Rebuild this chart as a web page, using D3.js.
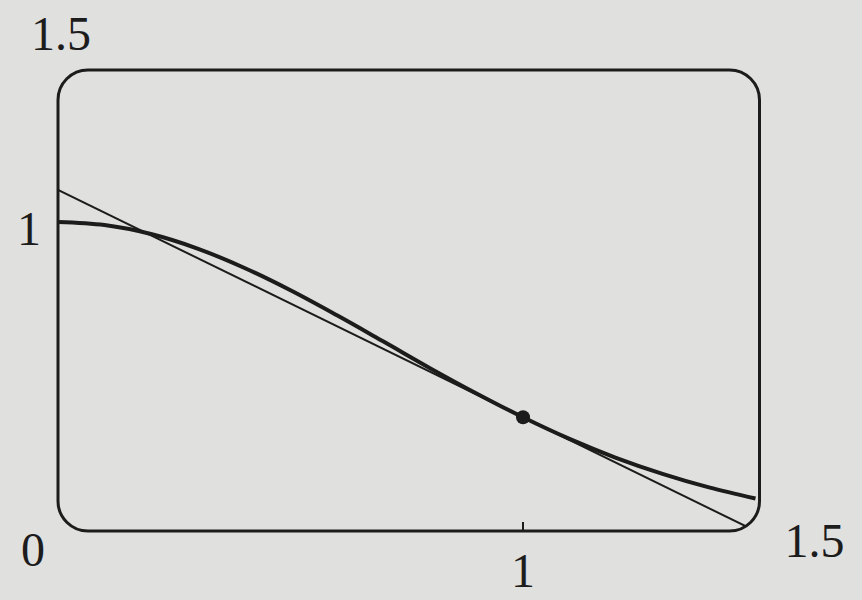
<!DOCTYPE html>
<html><head><meta charset="utf-8">
<script src="https://cdn.jsdelivr.net/npm/d3@7"></script>
<style>html,body{margin:0;padding:0;background:#e0e0de;}svg{display:block;}</style>
</head><body>
<svg id="c" width="862" height="600"></svg>
<script>
// Curve sample points
const curveX = [0, 0.1, 0.2, 0.3, 0.4, 0.5, 0.6, 0.7, 0.8, 0.9, 1.0, 1.1, 1.2, 1.3, 1.4, 1.5];
const curveY = [1.0, 0.99, 0.961, 0.914, 0.852, 0.779, 0.698, 0.613, 0.527, 0.445, 0.368, 0.298, 0.237, 0.185, 0.141, 0.105];
// Tangent line end points
const lineX = [0, 1.5];
const lineY = [1.104, 0.0];
// Marked point
const pointX = [1.0];
const pointY = [0.368];
// Tick labels
const xTicks = [{v: 1, t: "1"}];
const xEndLabel = "1.5";
const yTopLabel = "1.5";
const yTickLabel = "1";
const originLabel = "0";

const svg = d3.select("#c");
const x = d3.scaleLinear().domain([0, 1.5]).range([58, 755.5]);
const y = d3.scaleLinear().domain([0, 1.5]).range([531, 67.5]);

const ink = "#1c1c1c";
const bx0 = x(0), bx1 = x(1.5) + 4, by0 = y(1.5) + 2.5, by1 = y(0);
const rad = 30;

svg.append("defs").append("clipPath").attr("id", "clip")
  .append("rect").attr("x", bx0).attr("y", by0).attr("width", bx1 - bx0).attr("height", by1 - by0)
  .attr("rx", rad).attr("ry", rad);

const g = svg.append("g").attr("clip-path", "url(#clip)");

const line = d3.line().x(d => x(d[0])).y(d => y(d[1]));

g.append("path")
  .datum(lineX.map((v, i) => [v, lineY[i]]))
  .attr("d", line).attr("fill", "none").attr("stroke", ink).attr("stroke-width", 2);

g.append("path")
  .datum(curveX.map((v, i) => [v, curveY[i]]))
  .attr("d", line.curve(d3.curveCatmullRom)).attr("fill", "none").attr("stroke", ink).attr("stroke-width", 4);

g.selectAll("circle.pt").data(pointX.map((v, i) => [v, pointY[i]])).enter()
  .append("circle").attr("cx", d => x(d[0])).attr("cy", d => y(d[1])).attr("r", 7).attr("fill", ink);

// tick on bottom edge
svg.selectAll("line.tick").data(xTicks).enter().append("line")
  .attr("x1", d => x(d.v)).attr("x2", d => x(d.v))
  .attr("y1", y(0)).attr("y2", y(0) - 9)
  .attr("stroke", ink).attr("stroke-width", 2);

// box
svg.append("rect").attr("x", bx0).attr("y", by0).attr("width", bx1 - bx0).attr("height", by1 - by0)
  .attr("rx", rad).attr("ry", rad).attr("fill", "none").attr("stroke", ink).attr("stroke-width", 3);

const font = "'Liberation Serif', 'Times New Roman', serif";
function label(txt, px, py, anchor) {
  svg.append("text").attr("x", px).attr("y", py).attr("text-anchor", anchor)
    .attr("font-family", font).attr("font-size", 48).attr("fill", ink).text(txt);
}
label(originLabel, x(0) - 25, y(0) + 35, "middle");
xTicks.forEach(d => label(d.t, x(d.v), y(0) + 56, "middle"));
label(xEndLabel, x(1.5) + 29, y(0) + 26, "start");
label(yTopLabel, x(0) - 27, y(1.5) - 18, "start");
label(yTickLabel, x(0) - 17, y(1) + 23, "end");
</script>
</body></html>
